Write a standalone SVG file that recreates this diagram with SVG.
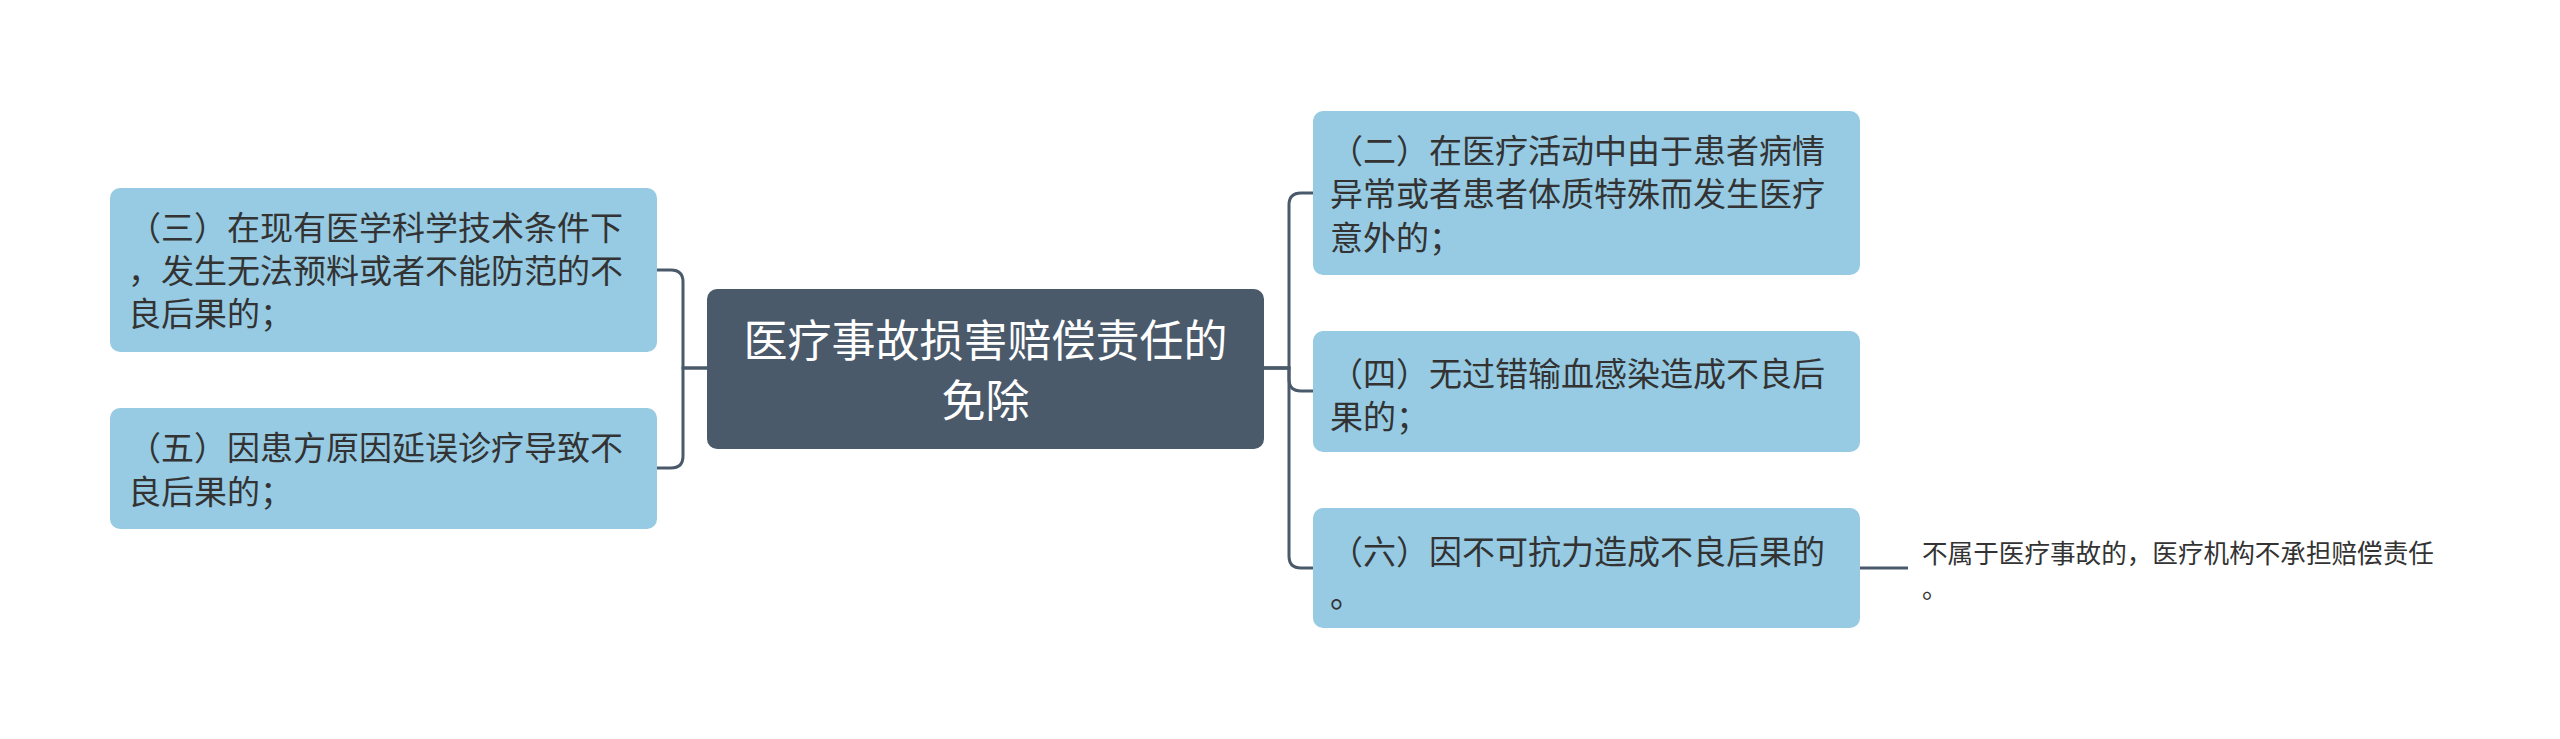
<svg xmlns="http://www.w3.org/2000/svg" width="2560" height="739" viewBox="0 0 2560 739">
<style>
.bg{fill:#ffffff}
.sub{fill:#96cbe3}
.root{fill:#4b5a6a}
.t{font-family:"Noto Sans CJK SC","Noto Sans",sans-serif;font-size:33px;fill:#333333}
.rt{font-family:"Noto Sans CJK SC","Noto Sans",sans-serif;font-size:44px;fill:#ffffff;text-anchor:middle}
.lt{font-family:"Noto Sans CJK SC","Noto Sans",sans-serif;font-size:25.6px;fill:#333333}
.c{fill:none;stroke:#4b5a6a;stroke-width:3;stroke-linecap:butt}
</style>
<rect class="bg" x="0" y="0" width="2560" height="739"/>
<g id="connectors">
<path class="c" d="M707,368 H683 V282 Q683,270 671,270 H657"/>
<path class="c" d="M707,368 H683 V456 Q683,468 671,468 H657"/>
<path class="c" d="M1264,368 H1289 V205 Q1289,193 1301,193 H1313"/>
<path class="c" d="M1264,368 H1289 V379 Q1289,391 1301,391 H1313"/>
<path class="c" d="M1264,368 H1289 V556 Q1289,568 1301,568 H1313"/>
<path class="c" d="M1860,568 H1908"/>
</g>
<g id="root">
<rect class="root" x="707" y="289" width="557" height="160" rx="10"/>
<text class="rt" x="985.5" y="357">医疗事故损害赔偿责任的</text>
<text class="rt" x="985.5" y="417">免除</text>
</g>
<g id="n3">
<rect class="sub" x="110" y="188" width="547" height="164" rx="10"/>
<text class="t" x="128" y="239.5">（三）在现有医学科学技术条件下</text>
<text class="t" x="128" y="282.8">，发生无法预料或者不能防范的不</text>
<text class="t" x="128" y="326">良后果的；</text>
</g>
<g id="n5">
<rect class="sub" x="110" y="408" width="547" height="121" rx="10"/>
<text class="t" x="128" y="460">（五）因患方原因延误诊疗导致不</text>
<text class="t" x="128" y="503.5">良后果的；</text>
</g>
<g id="n2">
<rect class="sub" x="1313" y="111" width="547" height="164" rx="10"/>
<text class="t" x="1330" y="162.5">（二）在医疗活动中由于患者病情</text>
<text class="t" x="1330" y="206">异常或者患者体质特殊而发生医疗</text>
<text class="t" x="1330" y="250">意外的；</text>
</g>
<g id="n4">
<rect class="sub" x="1313" y="331" width="547" height="121" rx="10"/>
<text class="t" x="1330" y="385.7">（四）无过错输血感染造成不良后</text>
<text class="t" x="1330" y="429">果的；</text>
</g>
<g id="n6">
<rect class="sub" x="1313" y="508" width="547" height="120" rx="10"/>
<text class="t" x="1330" y="564">（六）因不可抗力造成不良后果的</text>
<text class="t" x="1330" y="607">。</text>
</g>
<g id="leaf">
<text class="lt" x="1922" y="563">不属于医疗事故的，医疗机构不承担赔偿责任</text>
<text class="lt" x="1922" y="598">。</text>
</g>
</svg>
